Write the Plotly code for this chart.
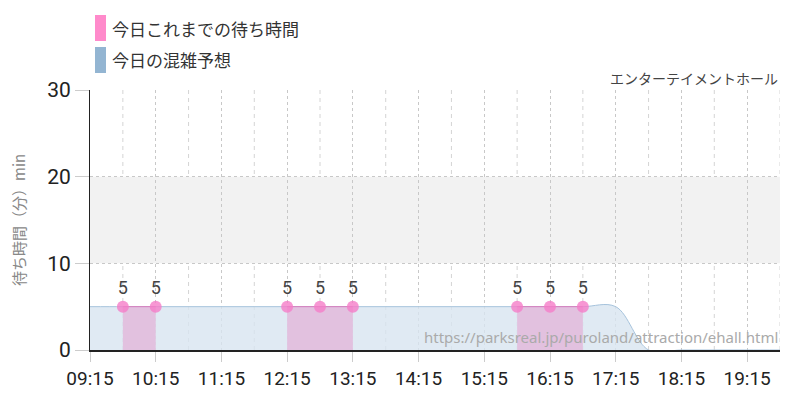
import plotly.graph_objects as go

DAY = "2024-01-01 "

# today's actual wait times (None = no data)
actual_times = ["09:45", "10:15", "10:45", "11:15", "11:45", "12:15", "12:45", "13:15",
                "13:45", "14:15", "14:45", "15:15", "15:45", "16:15", "16:45"]
actual_waits = [5, 5, None, None, None, 5, 5, 5,
                None, None, None, None, 5, 5, 5]

# today's congestion forecast
forecast_times = ["09:15", "09:45", "10:15", "10:45", "11:15", "11:45", "12:15", "12:45",
                  "13:15", "13:45", "14:15", "14:45", "15:15", "15:45", "16:15", "16:45",
                  "17:15", "17:45", "18:15", "18:45", "19:15", "19:45"]
forecast_waits = [5, 5, 5, 5, 5, 5, 5, 5,
                  5, 5, 5, 5, 5, 5, 5, 5,
                  5, 0, 0, 0, 0, 0]

y_ticks = [0, 10, 20, 30]

legend_names = ["今日これまでの待ち時間", "今日の混雑予想"]
legend_colors = ["#ff8acb", "#93b5d2"]

NUM_FONT = "Roboto, sans-serif"
JP_FONT = "Noto Sans CJK JP, sans-serif"

fig = go.Figure()

# half-hour dashed guides
for t in forecast_times:
    if t.endswith(":45"):
        fig.add_shape(type="line", xref="x", yref="paper", x0=DAY + t, x1=DAY + t,
                      y0=0, y1=1, line=dict(color="#d4d4d4", width=1, dash="4px,4px"),
                      layer="below")

# grey band 10-20
fig.add_shape(type="rect", xref="paper", yref="y", x0=0, x1=1, y0=10, y1=20,
              fillcolor="#f2f2f2", line_width=0, layer="below")

fig.add_trace(go.Scatter(
    x=[DAY + t for t in forecast_times], y=forecast_waits,
    mode="lines", line=dict(color="#a6c3dc", width=1, shape="spline"),
    fill="tozeroy", fillcolor="rgba(216,229,240,0.8)", hoverinfo="skip",
))

# split the actual series into continuous runs so each one gets its own fill
segments = []
cur_x, cur_y = [], []
for t, v in zip(actual_times, actual_waits):
    if v is None:
        if cur_x:
            segments.append((cur_x, cur_y))
        cur_x, cur_y = [], []
    else:
        cur_x.append(DAY + t)
        cur_y.append(v)
if cur_x:
    segments.append((cur_x, cur_y))

for xs, ys in segments:
    fig.add_trace(go.Scatter(
        x=xs, y=ys,
        mode="lines+markers+text",
        line=dict(color="#d77cbd", width=1),
        marker=dict(size=12, color="rgba(245,125,200,0.8)"),
        fill="tozeroy", fillcolor="#e2c1df",
        text=[str(v) for v in ys],
        textposition="top center",
        textfont=dict(family=NUM_FONT, size=18, color="#444"),
        hoverinfo="skip",
    ))

# legend drawn by hand (tall colour blocks)
for i, (name, col) in enumerate(zip(legend_names, legend_colors)):
    ytop = 1 + (90 - 15 - i * 32) / 260
    fig.add_shape(type="rect", xref="paper", yref="paper",
                  x0=(95 - 90) / 690, x1=(106 - 90) / 690,
                  y0=ytop - 26 / 260, y1=ytop,
                  fillcolor=col, line_width=0)
    fig.add_annotation(xref="paper", yref="paper", x=(110 - 90) / 690, y=ytop - 13 / 260,
                       text=name, showarrow=False, xanchor="left", yanchor="middle",
                       font=dict(family=JP_FONT, size=17, color="#333"))

fig.add_annotation(xref="paper", yref="paper", x=1, y=1 + 12 / 260,
                   text="エンターテイメントホール", showarrow=False,
                   xanchor="right", yanchor="middle",
                   font=dict(family=JP_FONT, size=14, color="#444"))

fig.add_annotation(xref="paper", yref="paper", x=1, y=13 / 260,
                   text="https://parksreal.jp/puroland/attraction/ehall.html", showarrow=False,
                   xanchor="right", yanchor="middle",
                   font=dict(family="Noto Sans, sans-serif", size=15, color="#aaa"))

fig.add_annotation(xref="paper", yref="paper", x=-72 / 690, y=0.5,
                   text="待ち時間（分）min", showarrow=False, textangle=-90,
                   xanchor="center", yanchor="middle",
                   font=dict(family=JP_FONT, size=15, color="#888"))

fig.update_layout(
    width=800, height=400,
    margin=dict(l=90, r=20, t=90, b=50),
    paper_bgcolor="white", plot_bgcolor="white",
    showlegend=False,
    xaxis=dict(
        type="date", automargin=False,
        range=[DAY + "09:15", DAY + "19:45"],
        tick0=DAY + "09:15", dtick=3600000, tickformat="%H:%M",
        showgrid=True, gridcolor="#c8c8c8", griddash="dot", gridwidth=1,
        ticks="outside", ticklen=10, tickcolor="#cccccc",
        showline=True, linecolor="#222", linewidth=2,
        tickfont=dict(family=NUM_FONT, size=19, color="#222"),
        zeroline=False,
    ),
    yaxis=dict(
        range=[0, 30], tickvals=y_ticks, automargin=False,
        showgrid=True, gridcolor="#c8c8c8", griddash="dot", gridwidth=1,
        ticks="outside", ticklen=14, tickcolor="#cccccc",
        showline=True, linecolor="#222", linewidth=1,
        tickfont=dict(family=NUM_FONT, size=21, color="#222"),
        zeroline=False,
    ),
)

fig.write_html("out.html", config={"displayModeBar": False},
               post_script="document.body.style.margin='0px';")
